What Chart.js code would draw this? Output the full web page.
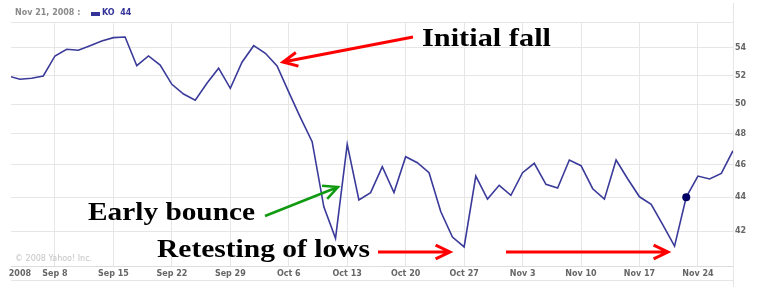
<!DOCTYPE html>
<html>
<head>
<meta charset="utf-8">
<title>KO - Sep to Nov 2008</title>
<script src="https://cdn.jsdelivr.net/npm/chart.js@4.4.1/dist/chart.umd.min.js"></script>
<style>
  html, body { margin: 0; padding: 0; background: #fff; }
  #wrap { width: 757px; height: 292px; }
</style>
</head>
<body>
<div id="wrap"><canvas id="koChart" width="757" height="292"></canvas></div>
<script>
// trading days shown on the chart
const dates = [
    'Sep 2', 'Sep 3', 'Sep 4', 'Sep 5',
    'Sep 8', 'Sep 9', 'Sep 10', 'Sep 11', 'Sep 12',
    'Sep 15', 'Sep 16', 'Sep 17', 'Sep 18', 'Sep 19',
    'Sep 22', 'Sep 23', 'Sep 24', 'Sep 25', 'Sep 26',
    'Sep 29', 'Sep 30', 'Oct 1', 'Oct 2', 'Oct 3',
    'Oct 6', 'Oct 7', 'Oct 8', 'Oct 9', 'Oct 10',
    'Oct 13', 'Oct 14', 'Oct 15', 'Oct 16', 'Oct 17',
    'Oct 20', 'Oct 21', 'Oct 22', 'Oct 23', 'Oct 24',
    'Oct 27', 'Oct 28', 'Oct 29', 'Oct 30', 'Oct 31',
    'Nov 3', 'Nov 4', 'Nov 5', 'Nov 6', 'Nov 7',
    'Nov 10', 'Nov 11', 'Nov 12', 'Nov 13', 'Nov 14',
    'Nov 17', 'Nov 18', 'Nov 19', 'Nov 20', 'Nov 21',
    'Nov 24', 'Nov 25', 'Nov 26', 'Nov 28'
];

// KO closing price
const koClose = [
    51.96, 51.73, 51.80, 51.96,
    53.41, 53.90, 53.83, 54.17, 54.52,
    54.77, 54.82, 52.70, 53.41, 52.75,
    51.37, 50.69, 50.26, 51.44, 52.52,
    51.09, 52.95, 54.17, 53.61, 52.68,
    50.82, 49.08, 47.48, 43.42, 41.58,
    47.31, 43.83, 44.27, 45.88, 44.28,
    46.51, 46.13, 45.50, 43.14, 41.65,
    41.09, 45.29, 43.88, 44.72, 44.11,
    45.50, 46.09, 44.78, 44.55, 46.30,
    45.94, 44.51, 43.88, 46.30, 45.11,
    44.02, 43.57, 42.35, 41.14, 44.00,
    45.29, 45.11, 45.46, 46.90
];

// x axis ticks (first one is the year label, no grid line)
const tickDates = ['Sep 3', 'Sep 8', 'Sep 15', 'Sep 22', 'Sep 29', 'Oct 6', 'Oct 13',
                   'Oct 20', 'Oct 27', 'Nov 3', 'Nov 10', 'Nov 17', 'Nov 24'];
const tickLabels = ['2008', 'Sep 8', 'Sep 15', 'Sep 22', 'Sep 29', 'Oct 6', 'Oct 13',
                    'Oct 20', 'Oct 27', 'Nov 3', 'Nov 10', 'Nov 17', 'Nov 24'];
const yTicks = [42, 44, 46, 48, 50, 52, 54];

const highlightDate = 'Nov 21';
const highlightIdx = dates.indexOf(highlightDate);

const tickIdx = tickDates.map(d => dates.indexOf(d));
const points = koClose.map((v, i) => ({ x: i, y: v }));

const gridColor = '#e6e6e6';
const labelColor = '#666666';
const axisFont = { family: 'DejaVu Sans', size: 8, weight: 'bold' };

// red / green arrows with an open head
function drawArrow(ctx, x1, y1, x2, y2, color, width) {
    const a = Math.atan2(y2 - y1, x2 - x1);
    const len = 16, spread = 0.45;
    ctx.save();
    ctx.strokeStyle = color;
    ctx.lineWidth = width;
    ctx.lineCap = 'butt';
    ctx.beginPath();
    ctx.moveTo(x1, y1);
    ctx.lineTo(x2, y2);
    ctx.moveTo(x2 - len * Math.cos(a - spread), y2 - len * Math.sin(a - spread));
    ctx.lineTo(x2, y2);
    ctx.lineTo(x2 - len * Math.cos(a + spread), y2 - len * Math.sin(a + spread));
    ctx.stroke();
    ctx.restore();
}

// bold serif caption stretched to the width seen in the picture
function drawCaption(ctx, text, x, baseline, width) {
    ctx.save();
    ctx.font = 'bold 26px "Liberation Serif"';
    ctx.fillStyle = '#000';
    ctx.textBaseline = 'alphabetic';
    const w = ctx.measureText(text).width;
    ctx.translate(x, baseline);
    ctx.scale(width / w, 1);
    ctx.fillText(text, 0, 0);
    ctx.restore();
}

const decorations = {
    id: 'decorations',
    afterDraw(chart) {
        const ctx = chart.ctx;
        const area = chart.chartArea;

        // frame bits
        ctx.save();
        ctx.strokeStyle = gridColor;
        ctx.lineWidth = 1;
        ctx.beginPath();
        ctx.moveTo(area.left, area.top + 0.5);
        ctx.lineTo(area.right, area.top + 0.5);
        ctx.moveTo(area.left, 280.5);
        ctx.lineTo(area.right, 280.5);
        ctx.moveTo(Math.round(area.right) + 0.5, 3);
        ctx.lineTo(Math.round(area.right) + 0.5, 287);
        ctx.stroke();
        ctx.restore();

        // header
        ctx.save();
        ctx.font = 'bold 8px "DejaVu Sans"';
        ctx.textBaseline = 'middle';
        ctx.fillStyle = '#8a8a8a';
        ctx.fillText(highlightDate + ', 2008 :', 15, 13);
        ctx.fillStyle = '#333399';
        ctx.fillRect(91, 12, 9, 4);
        ctx.fillText('KO  ' + Math.round(koClose[highlightIdx]), 102, 13);
        ctx.font = '8px "DejaVu Sans"';
        ctx.fillStyle = '#c4c4c4';
        ctx.fillText('\u00a9 2008 Yahoo! Inc.', 15, 259);
        ctx.restore();

        // annotations
        drawArrow(ctx, 413, 37, 283, 62, '#ff0000', 3);
        drawCaption(ctx, 'Initial fall', 422, 46, 129);
        drawArrow(ctx, 265, 216, 338, 187, '#109a10', 2.5);
        drawCaption(ctx, 'Early bounce', 88, 220, 167);
        drawCaption(ctx, 'Retesting of lows', 157, 257, 213);
        drawArrow(ctx, 378, 252, 450, 252, '#ff0000', 3);
        drawArrow(ctx, 506, 252, 668, 252, '#ff0000', 3);
    }
};

const config = {
    type: 'line',
    data: {
        datasets: [{
            label: 'KO',
            data: points,
            borderColor: '#3a3a9a',
            borderWidth: 1.6,
            tension: 0,
            pointRadius: ctx => ctx.dataIndex === highlightIdx ? 4 : 0,
            pointBackgroundColor: '#000066',
            pointBorderColor: '#000066',
            pointBorderWidth: 0
        }]
    },
    options: {
        responsive: false,
        animation: false,
        devicePixelRatio: 1,
        layout: { padding: { left: 11, top: 22, right: 0, bottom: 0 } },
        plugins: {
            legend: { display: false },
            tooltip: { enabled: false }
        },
        scales: {
            x: {
                type: 'linear',
                min: 0.24,
                max: dates.length - 1,
                afterBuildTicks: scale => {
                    scale.ticks = tickIdx.map(v => ({ value: v }));
                },
                afterFit: scale => { scale.height = 26; },
                grid: {
                    color: ctx => (ctx.tick && ctx.tick.value === tickIdx[0]) ? 'rgba(0,0,0,0)' : gridColor,
                    drawTicks: false
                },
                border: { color: '#dddddd' },
                ticks: {
                    autoSkip: false,
                    maxRotation: 0,
                    padding: 3,
                    color: labelColor,
                    font: axisFont,
                    callback: value => tickLabels[tickIdx.indexOf(value)]
                }
            },
            y: {
                type: 'logarithmic',
                position: 'right',
                min: 40.03,
                max: 55.96,
                afterBuildTicks: scale => {
                    scale.ticks = yTicks.map(v => ({ value: v }));
                },
                afterFit: scale => { scale.width = 24; },
                grid: { color: gridColor, drawTicks: false },
                border: { color: '#dddddd' },
                ticks: {
                    padding: 2,
                    color: labelColor,
                    font: axisFont,
                    callback: value => String(value)
                }
            }
        }
    },
    plugins: [decorations]
};

const koChart = new Chart(document.getElementById('koChart'), config);
</script>
</body>
</html>
